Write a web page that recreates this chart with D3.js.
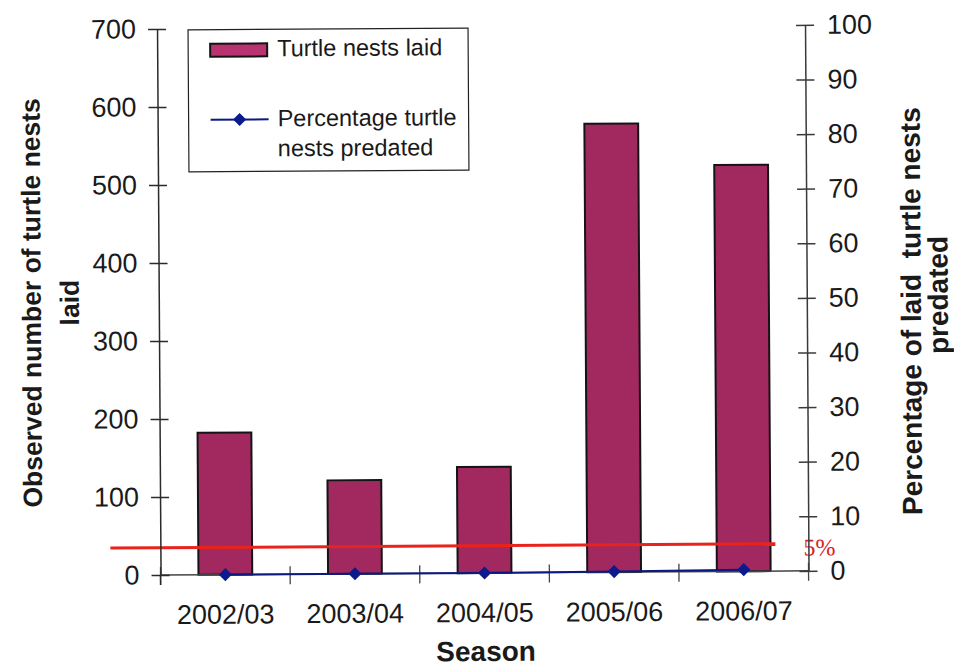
<!DOCTYPE html>
<html>
<head>
<meta charset="utf-8">
<script src="https://cdn.jsdelivr.net/npm/d3@7"></script>
<style>
  body { margin: 0; background: #fff; }
  svg { display: block; }
  text { font-family: "Liberation Sans", Arial, sans-serif; fill: #1a1a1a; }
</style>
</head>
<body>
<svg id="chart" width="954" height="666"></svg>
<script>
// Nesting seasons and observations
const seasons = ["2002/03", "2003/04", "2004/05", "2005/06", "2006/07"];
const nestsLaid = [182, 120, 136, 575, 521];
const pctPredated = [0, 0, 0, 0.1, 0.3];

// Axis ticks
const leftTicks = [0, 100, 200, 300, 400, 500, 600, 700];
const rightTicks = [0, 10, 20, 30, 40, 50, 60, 70, 80, 90, 100];

// Predation threshold
const thresholdPct = 5;
const thresholdLabel = "5%";

const svg = d3.select("#chart");
const W = 954, H = 666;
const plot = { left: 159, right: 807, top: 27, bottom: 573 };
const sans = '"Liberation Sans", Arial, sans-serif';

// the printed page sits a little askew
const root = svg.append("g").attr("transform", `rotate(-0.37, ${W / 2}, ${H / 2})`);

const x = d3.scaleBand()
  .domain(seasons)
  .range([plot.left, plot.right])
  .paddingInner(0.585)
  .paddingOuter(0.2925);

const yL = d3.scaleLinear().domain([0, 700]).range([plot.bottom, plot.top]);
const yR = d3.scaleLinear().domain([0, 100]).range([plot.bottom, plot.top]);

const axisColor = "#2a2a2a";

// bars
root.append("g").selectAll("rect")
  .data(seasons.map((s, i) => ({ s, v: nestsLaid[i] })))
  .join("rect")
  .attr("x", d => x(d.s))
  .attr("width", x.bandwidth())
  .attr("y", d => yL(d.v))
  .attr("height", d => yL(0) - yL(d.v))
  .attr("fill", "#a2295f")
  .attr("stroke", "#141414")
  .attr("stroke-width", 2);

// threshold line
const thr = yR(thresholdPct);
root.append("line")
  .attr("x1", plot.left - 50).attr("x2", plot.right - 33)
  .attr("y1", thr).attr("y2", thr)
  .attr("stroke", "#e8231c")
  .attr("stroke-width", 3);
root.append("text")
  .attr("x", plot.right - 5)
  .attr("y", thr + 12)
  .style("font-family", '"Liberation Serif", "Times New Roman", serif')
  .style("font-size", "24px")
  .style("fill", "#d42424")
  .text(thresholdLabel);

// x axis line and category boundary ticks
root.append("line")
  .attr("x1", plot.left).attr("x2", plot.right)
  .attr("y1", plot.bottom).attr("y2", plot.bottom)
  .attr("stroke", "#444").attr("stroke-width", 1.5);
const bounds = [plot.left].concat(seasons.map(s => x(s) + x.bandwidth() / 2 + x.step() / 2));
root.append("g").selectAll("line")
  .data(bounds)
  .join("line")
  .attr("x1", d => d).attr("x2", d => d)
  .attr("y1", plot.bottom - 8).attr("y2", plot.bottom + 10)
  .attr("stroke", "#444").attr("stroke-width", 1.3);

// category labels
const xAxis = root.append("g")
  .attr("transform", `translate(0,${plot.bottom})`)
  .call(d3.axisBottom(x).tickSize(0).tickPadding(49));
xAxis.select(".domain").remove();
xAxis.selectAll("text")
  .attr("dy", 0)
  .style("font-size", "27px")
  .style("fill", "#1a1a1a")
  .style("font-family", sans);

// left axis
const gL = root.append("g")
  .attr("transform", `translate(${plot.left},0)`)
  .call(d3.axisLeft(yL).tickValues(leftTicks).tickSize(9).tickPadding(12).tickSizeOuter(0));
gL.select(".domain").attr("stroke", axisColor).attr("stroke-width", 1.5);
gL.selectAll(".tick line").attr("x1", 9).attr("stroke", axisColor).attr("stroke-width", 1.5);
gL.selectAll(".tick text")
  .style("font-size", "27px")
  .style("fill", "#1a1a1a")
  .style("font-family", sans);
gL.append("line").attr("y1", plot.bottom).attr("y2", plot.bottom + 10)
  .attr("stroke", axisColor).attr("stroke-width", 1.5);

// right axis
const gR = root.append("g")
  .attr("transform", `translate(${plot.right},0)`)
  .call(d3.axisRight(yR).tickValues(rightTicks).tickSize(9).tickPadding(13).tickSizeOuter(0));
gR.select(".domain").attr("stroke", "#3a3a3a").attr("stroke-width", 1.5);
gR.selectAll(".tick line").attr("x1", -9).attr("stroke", "#3a3a3a").attr("stroke-width", 1.5);
gR.selectAll(".tick text")
  .style("font-size", "27px")
  .style("fill", "#1a1a1a")
  .style("font-family", sans);

// percentage predated line
const pts = seasons.map((s, i) => [x(s) + x.bandwidth() / 2, yR(pctPredated[i])]);
root.append("path")
  .attr("d", d3.line()(pts))
  .attr("fill", "none")
  .attr("stroke", "#0b1a80")
  .attr("stroke-width", 2);
const diamond = d3.symbol().type(d3.symbolDiamond2).size(110);
root.append("g").selectAll("path")
  .data(pts)
  .join("path")
  .attr("transform", d => `translate(${d[0]},${d[1]})`)
  .attr("d", diamond)
  .attr("fill", "#0b1a8c");

// axis titles
root.append("text")
  .attr("x", 484)
  .attr("y", 661)
  .attr("text-anchor", "middle")
  .style("font-size", "28px")
  .style("font-weight", "bold")
  .text("Season");

const titleL = root.append("text")
  .attr("transform", "translate(61,300) rotate(-90)")
  .attr("text-anchor", "middle")
  .style("font-size", "26.5px")
  .style("font-weight", "bold");
titleL.append("tspan").attr("x", 0).attr("y", -20).text("Observed number of turtle nests");
titleL.append("tspan").attr("x", 0).attr("y", 18).text("laid");

const titleR = root.append("text")
  .attr("transform", "translate(934,314) rotate(-90)")
  .attr("text-anchor", "middle")
  .attr("xml:space", "preserve")
  .style("font-size", "28px")
  .style("font-weight", "bold")
  .style("white-space", "pre");
titleR.append("tspan").attr("x", 0).attr("y", -13).text("Percentage of laid  turtle nests");
titleR.append("tspan").attr("x", 16).attr("y", 14).text("predated");

// legend
const lg = root.append("g");
lg.append("rect")
  .attr("x", 190).attr("y", 28).attr("width", 280).attr("height", 142)
  .attr("fill", "#fff").attr("stroke", "#222").attr("stroke-width", 1.2);
lg.append("rect")
  .attr("x", 212).attr("y", 42).attr("width", 57).attr("height", 13)
  .attr("fill", "#b8336f").attr("stroke", "#141414").attr("stroke-width", 2);
lg.append("text").attr("x", 279).attr("y", 55).style("font-size", "23.5px").text("Turtle nests laid");
lg.append("line").attr("x1", 212).attr("x2", 270).attr("y1", 118).attr("y2", 118)
  .attr("stroke", "#0b1a80").attr("stroke-width", 2);
lg.append("path").attr("transform", "translate(241,118)").attr("d", diamond).attr("fill", "#0b1a8c");
lg.append("text").attr("x", 279).attr("y", 125).style("font-size", "23.5px").text("Percentage turtle");
lg.append("text").attr("x", 279).attr("y", 155).style("font-size", "23.5px").text("nests predated");
</script>
</body>
</html>
